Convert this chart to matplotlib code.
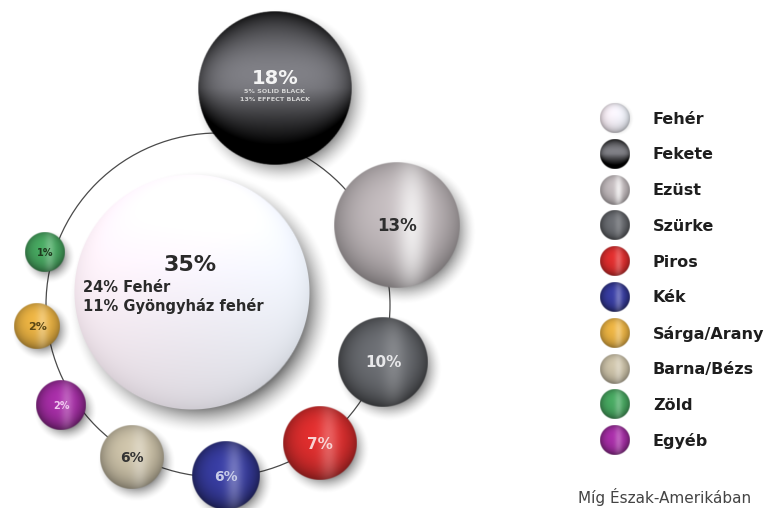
import numpy as np
import matplotlib
matplotlib.use("Agg")
import matplotlib.pyplot as plt
from matplotlib.patches import Circle

# data
categories = ["Fehér", "Fekete", "Ezüst", "Szürke", "Piros", "Kék",
              "Sárga/Arany", "Barna/Bézs", "Zöld", "Egyéb"]
shares = [35, 18, 13, 10, 7, 6, 2, 6, 1, 2]
labels = ["35%", "18%", "13%", "10%", "7%", "6%", "2%", "6%", "1%", "2%"]
white_detail = ["24% Fehér", "11% Gyöngyház fehér"]
black_detail = ["5% SOLID BLACK", "13% EFFECT BLACK"]
footer = "Míg Észak-Amerikában"

# layout (pixel space): position on the ring and bubble radius
ring_center = (218, 305)
ring_radius = 172
ring_angle = [153.4, 75.3, 24, -19, -53.5, -87.3, -173.4, -119.5, 163, -147.5]
ring_dist = [29, 224, 196, 175, 172, 171, 182, 175, 181, 186]
bubble_r = [118, 77, 63, 45, 37, 34, 23, 32, 20, 25]

# styles: base colour, stripe strength, rim darkening, text colour, font size
base_col = [(0.99, 0.99, 0.99), (0.42, 0.42, 0.44), (0.76, 0.73, 0.74),
            (0.42, 0.43, 0.45), (0.88, 0.18, 0.18), (0.22, 0.24, 0.64),
            (0.92, 0.70, 0.26), (0.80, 0.76, 0.66), (0.28, 0.66, 0.38),
            (0.66, 0.18, 0.66)]
stripe = [0.0, 0.0, 0.75, 0.18, 0.25, 0.3, 0.3, 0.3, 0.25, 0.25]
rim = [0.0, 0.5, 0.3, 0.45, 0.35, 0.45, 0.3, 0.3, 0.35, 0.4]
txt_col = ["#2a2a2a", "#f4f4f4", "#2e2e2e", "#e8e8ea", "#f8d4d4", "#c8cce8",
           "#5a4614", "#333333", "#1e3a1e", "#f0c8f0"]
txt_size = [16, 14, 12, 11, 11, 10, 8, 10, 7, 7]
font = "DejaVu Sans"


def sphere_rgb(n, col, k_stripe, k_rim, dark_bottom=False, tint=False):
    u = np.linspace(-1, 1, n)
    U, V = np.meshgrid(u, u)
    d = np.sqrt(U**2 + V**2)
    dc = np.clip(d, 0, 1)
    col = np.array(col)
    shade = 1.0 - k_rim * dc**3 + 0.1 * (-V)
    if dark_bottom:
        shade = 0.75 + 0.45 * np.exp(-((V + 0.2) / 0.5)**2) - 0.85 * np.clip(V, 0, 1)
        shade -= 0.6 * dc**5
    rgb = col[None, None, :] * shade[..., None]
    st = np.exp(-((U - 0.25) / 0.25)**2) * (1 - 0.6 * dc**2)
    rgb = rgb + (1 - rgb) * (k_stripe * st)[..., None]
    if tint:
        pink = np.array([1.0, 0.95, 0.98])
        blue = np.array([0.95, 0.97, 1.0])
        w = np.clip((U + 1) / 2, 0, 1)[..., None]
        rgb = rgb * (pink * (1 - w) + blue * w)
        rgb = rgb - 0.06 * (dc**10)[..., None]
    rgb = np.clip(rgb, 0, 1)
    return rgb, d


def draw_sphere(ax, cx, cy, r, col, k_stripe, k_rim, z, dark_bottom=False, tint=False):
    n = 240
    rgb, d = sphere_rgb(n, col, k_stripe, k_rim, dark_bottom, tint)
    img = np.zeros((n, n, 4))
    img[..., :3] = rgb
    img[..., 3] = np.clip((1 - d) * r + 0.5, 0, 1)
    ax.imshow(img, extent=(cx - r, cx + r, cy + r, cy - r), origin="upper",
              zorder=z, interpolation="bilinear")


def draw_shadow(ax, cx, cy, r, z, off=(5, 7), soft=12, strength=0.45):
    n = 200
    R = r + soft * 1.5
    u = np.linspace(-R, R, n)
    U, V = np.meshgrid(u, u)
    dist = np.sqrt(U**2 + V**2)
    a = strength * np.clip((r + soft - dist) / (2 * soft), 0, 1)**1.6
    img = np.zeros((n, n, 4))
    img[..., 3] = a
    x, y = cx + off[0], cy + off[1]
    ax.imshow(img, extent=(x - R, x + R, y + R, y - R), origin="upper",
              zorder=z, interpolation="bilinear")


fig = plt.figure(figsize=(7.73, 5.08), dpi=100)
ax = fig.add_axes([0, 0, 1, 1])
ax.axis("off")

# ring connecting the bubbles
ax.add_patch(Circle(ring_center, ring_radius, fill=False, ec="#4a4a4a", lw=0.9, zorder=1))

xs, ys = [], []
for ang, dist in zip(ring_angle, ring_dist):
    xs.append(ring_center[0] + dist * np.cos(np.radians(ang)))
    ys.append(ring_center[1] - dist * np.sin(np.radians(ang)))

for i in range(len(categories)):
    s = 0.6 if i == 0 else 0.45
    draw_shadow(ax, xs[i], ys[i], bubble_r[i], 2,
                off=(3 + bubble_r[i] * 0.05, 4 + bubble_r[i] * 0.05),
                soft=5 + bubble_r[i] * 0.08, strength=s)

for i in range(len(categories)):
    draw_sphere(ax, xs[i], ys[i], bubble_r[i], base_col[i], stripe[i], rim[i], 3 + i * 0.01,
                dark_bottom=(i == 1), tint=(i == 0))

for i in range(len(categories)):
    x, y = xs[i], ys[i]
    if i == 0:
        ax.text(x - 2, y - 27, labels[i], ha="center", va="center", fontsize=txt_size[i],
                fontweight="bold", color=txt_col[i], family=font, zorder=10)
        ax.text(x - 109, y - 5, white_detail[0], ha="left", va="center", fontsize=10.5,
                fontweight="bold", color="#2a2a2a", family=font, zorder=10)
        ax.text(x - 109, y + 14, white_detail[1], ha="left", va="center", fontsize=10.5,
                fontweight="bold", color="#2a2a2a", family=font, zorder=10)
    elif i == 1:
        ax.text(x, y - 10, labels[i], ha="center", va="center", fontsize=txt_size[i],
                fontweight="bold", color=txt_col[i], family=font, zorder=10)
        ax.text(x, y + 3, black_detail[0], ha="center", va="center", fontsize=4.6,
                fontweight="bold", color="#d4d4d4", family=font, zorder=10)
        ax.text(x, y + 11, black_detail[1], ha="center", va="center", fontsize=4.6,
                fontweight="bold", color="#d4d4d4", family=font, zorder=10)
    else:
        ax.text(x, y + 1, labels[i], ha="center", va="center", fontsize=txt_size[i],
                fontweight="bold", color=txt_col[i], family=font, zorder=10)

# legend
leg_x, leg_y0, leg_dy, leg_r = 615, 118, 35.8, 15
for i, name in enumerate(categories):
    ly = leg_y0 + i * leg_dy
    if i == 0:
        draw_shadow(ax, leg_x, ly, leg_r, 4, off=(1, 1), soft=3, strength=0.15)
    draw_sphere(ax, leg_x, ly, leg_r, base_col[i], stripe[i], rim[i] if i else 0.25, 5,
                dark_bottom=(i == 1), tint=(i == 0))
    ax.text(653, ly + 1, name, ha="left", va="center", fontsize=11.5, fontweight="bold",
            color="#1e1e1e", family=font, zorder=10)

# footer caption
ax.text(578, 497, footer, ha="left", va="center", fontsize=11,
        color="#444444", family="DejaVu Sans", zorder=10)

ax.set_xlim(0, 773)
ax.set_ylim(508, 0)
ax.set_aspect("auto")
fig.savefig("out.png", dpi=100, facecolor="white")
